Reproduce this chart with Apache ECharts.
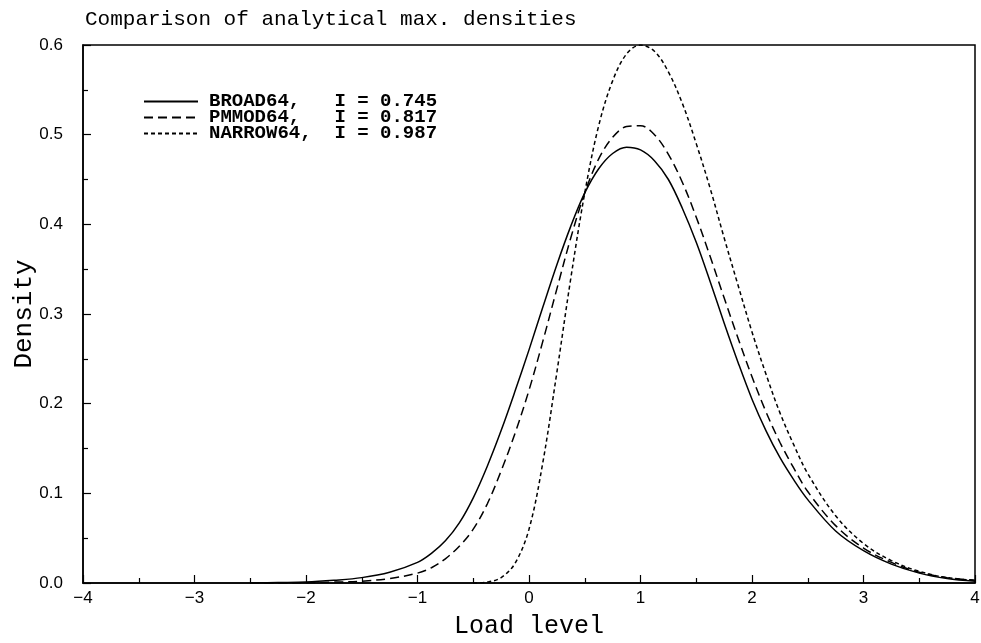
<!DOCTYPE html>
<html>
<head>
<meta charset="utf-8">
<script src="https://cdn.jsdelivr.net/npm/echarts@6/dist/echarts.min.js"></script>
<style>html,body{margin:0;padding:0;background:#fff}#c{width:981px;height:643px}</style>
</head>
<body>
<div id="c"></div>
<script>
var xTicks = [-4, -3, -2, -1, 0, 1, 2, 3, 4];
var yTicks = [0.0, 0.1, 0.2, 0.3, 0.4, 0.5, 0.6];

var seriesNames = ["BROAD64,   I = 0.745", "PMMOD64,   I = 0.817", "NARROW64,  I = 0.987"];

var xBroad = [-2.5, -2.25, -2.0, -1.75, -1.5, -1.25, -1.0, -0.875, -0.75, -0.625, -0.5, -0.375, -0.25, -0.125, 0, 0.125, 0.25, 0.375, 0.5, 0.625, 0.75, 0.875, 1.0, 1.125, 1.25, 1.375, 1.5, 1.625, 1.75, 1.875, 2.0, 2.125, 2.25, 2.375, 2.5, 2.75, 3.0, 3.25, 3.5, 3.75, 4.0];
var yBroad = [0.0, 0.0005, 0.001, 0.003, 0.006, 0.012, 0.023, 0.033, 0.047, 0.067, 0.095, 0.13, 0.17, 0.214, 0.26, 0.308, 0.355, 0.398, 0.435, 0.462, 0.479, 0.486, 0.483, 0.471, 0.45, 0.418, 0.38, 0.336, 0.29, 0.246, 0.205, 0.17, 0.14, 0.115, 0.093, 0.058, 0.036, 0.021, 0.011, 0.005, 0.002];

var xPmmod = [-2.5, -2.25, -2.0, -1.75, -1.5, -1.25, -1.0, -0.875, -0.75, -0.625, -0.5, -0.375, -0.25, -0.125, 0, 0.125, 0.25, 0.375, 0.5, 0.625, 0.75, 0.875, 1.0, 1.125, 1.25, 1.375, 1.5, 1.625, 1.75, 1.875, 2.0, 2.125, 2.25, 2.375, 2.5, 2.75, 3.0, 3.25, 3.5, 3.75, 4.0];
var yPmmod = [0.0, 0.0, 0.0003, 0.001, 0.002, 0.005, 0.011, 0.017, 0.027, 0.041, 0.06, 0.088, 0.125, 0.167, 0.215, 0.27, 0.328, 0.385, 0.435, 0.473, 0.497, 0.509, 0.51, 0.5, 0.478, 0.447, 0.408, 0.364, 0.318, 0.273, 0.23, 0.191, 0.157, 0.128, 0.102, 0.064, 0.039, 0.023, 0.012, 0.006, 0.003];

var xNarrow = [-0.5, -0.375, -0.25, -0.125, 0, 0.125, 0.25, 0.375, 0.5, 0.625, 0.75, 0.875, 1.0, 1.125, 1.25, 1.375, 1.5, 1.625, 1.75, 1.875, 2.0, 2.125, 2.25, 2.375, 2.5, 2.75, 3.0, 3.25, 3.5, 3.75, 4.0];
var yNarrow = [0.0, 0.001, 0.006, 0.022, 0.06, 0.135, 0.235, 0.34, 0.435, 0.51, 0.56, 0.59, 0.6, 0.593, 0.57, 0.535, 0.49, 0.44, 0.385, 0.332, 0.28, 0.233, 0.19, 0.154, 0.122, 0.075, 0.044, 0.025, 0.013, 0.006, 0.003];

function pairs(xs, ys) { return xs.map(function (x, i) { return [x, ys[i]]; }); }

var chart = echarts.init(document.getElementById('c'), null, { renderer: 'canvas' });
var mono = '"Liberation Mono", "DejaVu Sans Mono", monospace';
var sans = '"Liberation Sans", Arial, sans-serif';

function mkSeries(name, data, type) {
  return {
    name: name, type: 'line', data: data, smooth: 0.35, showSymbol: false, symbol: 'none',
    lineStyle: { color: '#000', width: 1.5, type: type },
    itemStyle: { color: '#000' },
    emphasis: { disabled: true }, animation: false
  };
}

chart.setOption({
  animation: false,
  backgroundColor: '#fff',
  title: {
    text: 'Comparison of analytical max. densities',
    left: 80, top: 4,
    textStyle: { fontFamily: mono, fontSize: 21, fontWeight: 'normal', color: '#000' }
  },
  legend: {
    orient: 'vertical', left: 138, top: 87, itemWidth: 54, itemHeight: 14, itemGap: -3,
    data: seriesNames,
    itemStyle: { opacity: 0, color: 'transparent', borderWidth: 0 },
    textStyle: { fontFamily: mono, fontSize: 19, fontWeight: 'bold', color: '#000', padding: [0, 0, 0, 6] },
    selectedMode: false
  },
  grid: { left: 83, right: 6, top: 45, bottom: 60, outerBoundsMode: 'none', containLabel: false, show: true, borderColor: '#000', borderWidth: 1.5, backgroundColor: 'transparent' },
  xAxis: {
    type: 'value', min: xTicks[0], max: xTicks[xTicks.length - 1], interval: 1,
    name: 'Load level', nameLocation: 'middle', nameGap: 31,
    nameTextStyle: { fontFamily: mono, fontSize: 25, color: '#000' },
    axisLine: { show: true, onZero: false, lineStyle: { color: '#000', width: 1.5 } },
    axisTick: { show: true, inside: true, length: 8, lineStyle: { color: '#000', width: 1.2 } },
    minorTick: { show: true, splitNumber: 2, length: 5, lineStyle: { color: '#000', width: 1.2 } },
    splitLine: { show: false },
    axisLabel: { fontFamily: sans, fontSize: 17, color: '#000', margin: 7,
      formatter: function (v) { return String(v).replace('-', '\u2212'); } }
  },
  yAxis: {
    type: 'value', min: yTicks[0], max: yTicks[yTicks.length - 1], interval: 0.1,
    name: 'Density', nameLocation: 'middle', nameGap: 46, nameRotate: 90, nameMoveOverlap: false,
    nameTextStyle: { fontFamily: mono, fontSize: 26, color: '#000' },
    axisLine: { show: true, onZero: false, lineStyle: { color: '#000', width: 1.5 } },
    axisTick: { show: true, inside: true, length: 8, lineStyle: { color: '#000', width: 1.2 } },
    minorTick: { show: true, splitNumber: 2, length: 5, lineStyle: { color: '#000', width: 1.2 } },
    splitLine: { show: false },
    axisLabel: { fontFamily: sans, fontSize: 17, color: '#000', margin: 20,
      formatter: function (v) { return v.toFixed(1); } }
  },
  series: [
    mkSeries(seriesNames[0], pairs(xBroad, yBroad), 'solid'),
    mkSeries(seriesNames[1], pairs(xPmmod, yPmmod), [9, 5]),
    mkSeries(seriesNames[2], pairs(xNarrow, yNarrow), [4, 3])
  ]
});
</script>
</body>
</html>
